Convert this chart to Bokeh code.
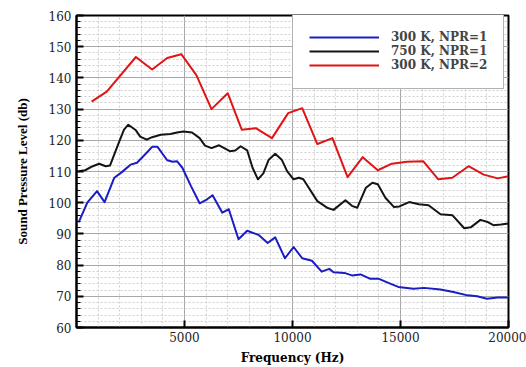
from bokeh.plotting import figure
from bokeh.models import Range1d, FixedTicker, Legend, LegendItem
from bokeh.embed import file_html
from bokeh.resources import INLINE

# Sound pressure level spectra (frequency in Hz, SPL in dB)
freq_300k_npr1 = [100, 500, 950, 1300, 1750, 2100, 2500, 2800, 3250, 3500,
                  3750, 4200, 4450, 4650, 4900, 5300, 5700, 6050, 6300, 6750,
                  7050, 7500, 7900, 8450, 8850, 9200, 9650, 10050, 10450, 10900,
                  11350, 11700, 11900, 12400, 12750, 13150, 13600, 14000, 14550, 14900,
                  15600, 16100, 16850, 17450, 18100, 18550, 19000, 19500, 20000]
spl_300k_npr1 = [93.7, 100.0, 103.7, 100.2, 108.0, 109.8, 112.2, 112.8, 116.0, 117.9,
                 117.9, 113.6, 113.1, 113.3, 111.2, 105.3, 99.8, 101.1, 102.4, 96.8,
                 97.9, 88.3, 91.0, 89.6, 87.1, 88.9, 82.2, 85.8, 82.2, 81.4,
                 77.9, 78.8, 77.7, 77.5, 76.7, 77.0, 75.6, 75.6, 74.0, 73.0,
                 72.4, 72.7, 72.2, 71.4, 70.3, 70.0, 69.2, 69.6, 69.6]

freq_750k_npr1 = [100, 400, 750, 1050, 1350, 1550, 1950, 2200, 2400, 2750,
                  2950, 3250, 3500, 3900, 4350, 4650, 4950, 5350, 5700, 5950,
                  6250, 6600, 7100, 7350, 7600, 7900, 8150, 8400, 8650, 8900,
                  9200, 9500, 9750, 10050, 10300, 10500, 11150, 11600, 11900, 12450,
                  12750, 13000, 13400, 13700, 13950, 14300, 14700, 14950, 15400, 15850,
                  16300, 16850, 17400, 17950, 18250, 18700, 19000, 19300, 19650, 20000]
spl_750k_npr1 = [110.1, 110.4, 111.7, 112.5, 111.7, 111.9, 119.1, 123.4, 125.0, 123.2,
                 121.2, 120.2, 121.0, 121.8, 122.0, 122.5, 122.8, 122.5, 120.7, 118.3,
                 117.5, 118.4, 116.5, 116.7, 118.1, 116.8, 111.2, 107.5, 109.4, 113.8,
                 115.7, 113.8, 110.1, 107.5, 108.0, 107.5, 100.5, 98.4, 97.7, 100.8,
                 99.0, 98.4, 104.8, 106.4, 105.9, 101.6, 98.6, 98.8, 100.2, 99.5,
                 99.2, 96.3, 96.0, 91.8, 92.1, 94.5, 93.9, 92.8, 93.0, 93.3]

freq_300k_npr2 = [700, 1400, 2750, 3500, 4200, 4850, 5550, 6250, 7000, 7650,
                  8300, 9050, 9800, 10450, 11150, 11850, 12550, 13250, 13950, 14600,
                  15300, 16050, 16750, 17400, 18150, 18850, 19500, 20000]
spl_300k_npr2 = [132.4, 135.6, 146.7, 142.7, 146.4, 147.6, 140.9, 130.0, 135.1, 123.4,
                 123.9, 120.7, 128.7, 130.3, 118.8, 120.7, 108.2, 114.6, 110.4, 112.5,
                 113.1, 113.3, 107.5, 108.0, 111.7, 109.0, 107.8, 108.5]

series_labels = ["300 K, NPR=1", "750 K, NPR=1", "300 K, NPR=2"]
x_ticks = [5000, 10000, 15000, 20000]
y_ticks = [60, 70, 80, 90, 100, 110, 120, 130, 140, 150, 160]

p = figure(width=526, height=367, output_backend="svg", toolbar_location=None,
           x_range=Range1d(0, 20000), y_range=Range1d(60, 160),
           min_border_left=76, min_border_right=18, min_border_top=15,
           min_border_bottom=38)
p.background_fill_color = "white"
p.outline_line_color = "black"
p.outline_line_width = 2

p.xaxis.ticker = FixedTicker(ticks=x_ticks, minor_ticks=list(range(0, 20001, 1000)))
p.yaxis.ticker = FixedTicker(ticks=y_ticks, minor_ticks=list(range(60, 161, 2)))

for ax in (p.xaxis[0], p.yaxis[0]):
    ax.axis_line_color = "black"
    ax.axis_line_width = 2
    ax.major_tick_in = 7
    ax.major_tick_out = 0
    ax.major_tick_line_width = 2
    ax.major_label_text_font = "DejaVu Serif"
    ax.major_label_text_font_size = "12px"
    ax.major_label_text_color = "#222222"
    ax.axis_label_text_font_style = "bold"
    ax.axis_label_text_color = "black"

p.xaxis.minor_tick_in = 0
p.xaxis.minor_tick_out = 0
p.yaxis.minor_tick_in = 4
p.yaxis.minor_tick_out = 0

p.xaxis.axis_label = "Frequency (Hz)"
p.xaxis.axis_label_text_font = "DejaVu Serif"
p.xaxis.axis_label_text_font_size = "12px"
p.xaxis.major_label_standoff = 4
p.xaxis.axis_label_standoff = 6

p.yaxis.axis_label = "Sound Pressure Level (db)"
p.yaxis.axis_label_text_font = "Liberation Serif"
p.yaxis.axis_label_text_font_size = "13px"
p.yaxis.major_label_standoff = 5
p.yaxis.axis_label_standoff = 16

p.grid.grid_line_color = "#a8a8a8"
p.grid.grid_line_width = 1
p.grid.minor_grid_line_color = "#cfcfcf"
p.grid.minor_grid_line_dash = "2 2"
p.grid.minor_grid_line_width = 1

r_blue = p.line(freq_300k_npr1, spl_300k_npr1, line_color="#1c1cc4", line_width=2,
                line_join="round")
r_black = p.line(freq_750k_npr1, spl_750k_npr1, line_color="#141414", line_width=2,
                 line_join="round")
r_red = p.line(freq_300k_npr2, spl_300k_npr2, line_color="#e01515", line_width=2,
               line_join="round")

legend = Legend(items=[LegendItem(label=series_labels[0], renderers=[r_blue]),
                       LegendItem(label=series_labels[1], renderers=[r_black]),
                       LegendItem(label=series_labels[2], renderers=[r_red])],
                location=(216, 238), margin=0, padding=16, spacing=0,
                glyph_width=70, glyph_height=10, label_height=10,
                label_standoff=12,
                label_text_font="DejaVu Serif", label_text_font_style="bold",
                label_text_font_size="12px",
                border_line_color="#666666", border_line_width=1,
                background_fill_color="white", background_fill_alpha=1)
p.add_layout(legend)

open("out.html", "w").write(file_html(p, INLINE))
